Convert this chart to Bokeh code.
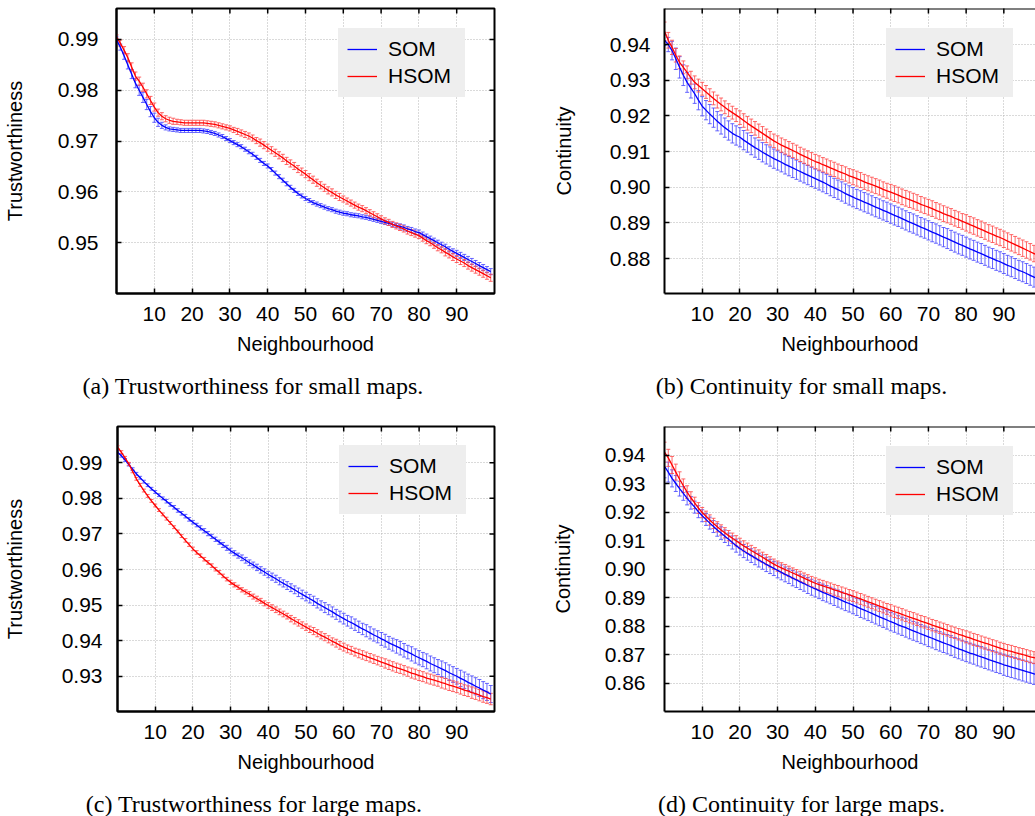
import math
from bokeh.plotting import figure
from bokeh.models import (ColumnDataSource, Range1d, FixedTicker, Legend, LegendItem,
                          Whisker, TeeHead, Label, Span, PrintfTickFormatter)
from bokeh.layouts import column, row
from bokeh.embed import file_html
from bokeh.resources import INLINE

neighbourhood = list(range(0, 100))
x_ticks = [10, 20, 30, 40, 50, 60, 70, 80, 90]
series_names = ["SOM", "HSOM"]

# ---------------- (a) Trustworthiness, small maps ----------------
a_yticks = [0.95, 0.96, 0.97, 0.98, 0.99]
a_som = [
    0.9900, 0.9885, 0.9868, 0.9850, 0.9832, 0.9814, 0.9800, 0.9786, 0.9772, 0.9758,
    0.9746, 0.9737, 0.9731, 0.9727, 0.9724, 0.9723, 0.9722, 0.9721, 0.9721, 0.9721,
    0.9721, 0.9721, 0.9721, 0.9720, 0.9719, 0.9717, 0.9715, 0.9712, 0.9709, 0.9705,
    0.9701, 0.9697, 0.9693, 0.9689, 0.9684, 0.9679, 0.9674, 0.9668, 0.9662, 0.9656,
    0.9651, 0.9644, 0.9637, 0.9630, 0.9623, 0.9616, 0.9609, 0.9603, 0.9597, 0.9592,
    0.9587, 0.9583, 0.9579, 0.9576, 0.9573, 0.9570, 0.9567, 0.9565, 0.9562, 0.9560,
    0.9558, 0.9557, 0.9555, 0.9554, 0.9553, 0.9551, 0.9550, 0.9548, 0.9546, 0.9544,
    0.9542, 0.9540, 0.9538, 0.9536, 0.9534, 0.9532, 0.9530, 0.9527, 0.9525, 0.9522,
    0.9520, 0.9516, 0.9512, 0.9508, 0.9504, 0.9500, 0.9496, 0.9492, 0.9487, 0.9483,
    0.9479, 0.9475, 0.9471, 0.9467, 0.9463, 0.9459, 0.9455, 0.9451, 0.9447, 0.9443]
a_som_err = [
    0.0005, 0.0006, 0.0007, 0.0008, 0.0009, 0.0009, 0.0010, 0.0010, 0.0010, 0.0010,
    0.0009, 0.0008, 0.0006, 0.0005, 0.0004, 0.0004, 0.0004, 0.0004, 0.0004, 0.0004,
    0.0004, 0.0004, 0.0004, 0.0004, 0.0004, 0.0004, 0.0004, 0.0004, 0.0004, 0.0004,
    0.0004, 0.0004, 0.0004, 0.0004, 0.0004, 0.0004, 0.0004, 0.0004, 0.0004, 0.0004,
    0.0004, 0.0004, 0.0004, 0.0004, 0.0004, 0.0004, 0.0004, 0.0004, 0.0004, 0.0004,
    0.0004, 0.0004, 0.0004, 0.0004, 0.0004, 0.0004, 0.0004, 0.0004, 0.0004, 0.0004,
    0.0004, 0.0004, 0.0004, 0.0004, 0.0004, 0.0004, 0.0004, 0.0004, 0.0004, 0.0004,
    0.0004, 0.0004, 0.0004, 0.0004, 0.0004, 0.0005, 0.0005, 0.0005, 0.0005, 0.0005,
    0.0005, 0.0005, 0.0005, 0.0005, 0.0005, 0.0005, 0.0005, 0.0005, 0.0005, 0.0005,
    0.0006, 0.0006, 0.0006, 0.0006, 0.0006, 0.0006, 0.0006, 0.0006, 0.0006, 0.0006]
a_hsom = [
    0.9905, 0.9893, 0.9879, 0.9864, 0.9846, 0.9828, 0.9818, 0.9806, 0.9793, 0.9780,
    0.9767, 0.9756, 0.9749, 0.9744, 0.9741, 0.9739, 0.9738, 0.9737, 0.9736, 0.9736,
    0.9736, 0.9736, 0.9736, 0.9736, 0.9735, 0.9734, 0.9733, 0.9731, 0.9729, 0.9727,
    0.9725, 0.9722, 0.9719, 0.9716, 0.9713, 0.9710, 0.9706, 0.9701, 0.9697, 0.9692,
    0.9687, 0.9682, 0.9677, 0.9672, 0.9667, 0.9661, 0.9656, 0.9651, 0.9645, 0.9640,
    0.9635, 0.9629, 0.9624, 0.9618, 0.9613, 0.9608, 0.9603, 0.9599, 0.9594, 0.9590,
    0.9586, 0.9582, 0.9578, 0.9574, 0.9570, 0.9567, 0.9563, 0.9559, 0.9555, 0.9551,
    0.9547, 0.9543, 0.9540, 0.9536, 0.9533, 0.9530, 0.9527, 0.9523, 0.9520, 0.9517,
    0.9514, 0.9509, 0.9504, 0.9500, 0.9495, 0.9490, 0.9486, 0.9481, 0.9477, 0.9472,
    0.9468, 0.9464, 0.9460, 0.9455, 0.9451, 0.9447, 0.9443, 0.9439, 0.9435, 0.9431]
a_hsom_err = [
    0.0004, 0.0006, 0.0007, 0.0008, 0.0008, 0.0008, 0.0008, 0.0008, 0.0008, 0.0008,
    0.0008, 0.0007, 0.0007, 0.0006, 0.0006, 0.0006, 0.0005, 0.0005, 0.0005, 0.0005,
    0.0005, 0.0005, 0.0005, 0.0005, 0.0005, 0.0005, 0.0005, 0.0005, 0.0005, 0.0005,
    0.0005, 0.0005, 0.0006, 0.0006, 0.0006, 0.0006, 0.0006, 0.0006, 0.0007, 0.0007,
    0.0007, 0.0007, 0.0007, 0.0007, 0.0007, 0.0007, 0.0007, 0.0007, 0.0007, 0.0007,
    0.0007, 0.0007, 0.0007, 0.0007, 0.0007, 0.0007, 0.0007, 0.0007, 0.0007, 0.0007,
    0.0006, 0.0006, 0.0006, 0.0006, 0.0006, 0.0006, 0.0006, 0.0006, 0.0006, 0.0006,
    0.0006, 0.0006, 0.0006, 0.0006, 0.0006, 0.0006, 0.0006, 0.0006, 0.0006, 0.0006,
    0.0006, 0.0006, 0.0006, 0.0006, 0.0006, 0.0006, 0.0006, 0.0007, 0.0007, 0.0007,
    0.0007, 0.0007, 0.0007, 0.0007, 0.0007, 0.0007, 0.0007, 0.0007, 0.0007, 0.0007]

# ---------------- (b) Continuity, small maps ----------------
b_yticks = [0.88, 0.89, 0.90, 0.91, 0.92, 0.93, 0.94]
b_som = [
    0.9412, 0.9400, 0.9383, 0.9360, 0.9336, 0.9314, 0.9294, 0.9278, 0.9262, 0.9244,
    0.9227, 0.9216, 0.9205, 0.9195, 0.9185, 0.9176, 0.9167, 0.9159, 0.9151, 0.9145,
    0.9140, 0.9132, 0.9125, 0.9118, 0.9111, 0.9105, 0.9098, 0.9092, 0.9086, 0.9080,
    0.9075, 0.9070, 0.9064, 0.9059, 0.9054, 0.9049, 0.9044, 0.9039, 0.9034, 0.9029,
    0.9024, 0.9019, 0.9014, 0.9009, 0.9003, 0.8998, 0.8993, 0.8988, 0.8982, 0.8977,
    0.8972, 0.8967, 0.8963, 0.8958, 0.8954, 0.8949, 0.8944, 0.8940, 0.8935, 0.8931,
    0.8926, 0.8921, 0.8917, 0.8912, 0.8907, 0.8902, 0.8898, 0.8893, 0.8888, 0.8884,
    0.8879, 0.8874, 0.8870, 0.8865, 0.8860, 0.8856, 0.8851, 0.8846, 0.8841, 0.8837,
    0.8832, 0.8827, 0.8823, 0.8818, 0.8814, 0.8809, 0.8804, 0.8800, 0.8795, 0.8791,
    0.8786, 0.8781, 0.8777, 0.8772, 0.8767, 0.8763, 0.8758, 0.8753, 0.8748, 0.8743]
b_som_err = [
    0.0015, 0.0020, 0.0026, 0.0030, 0.0030, 0.0029, 0.0028, 0.0028, 0.0027, 0.0027,
    0.0027, 0.0027, 0.0027, 0.0027, 0.0027, 0.0027, 0.0027, 0.0027, 0.0027, 0.0027,
    0.0027, 0.0027, 0.0027, 0.0027, 0.0027, 0.0027, 0.0027, 0.0027, 0.0027, 0.0027,
    0.0027, 0.0027, 0.0027, 0.0027, 0.0027, 0.0027, 0.0027, 0.0027, 0.0027, 0.0027,
    0.0027, 0.0027, 0.0027, 0.0027, 0.0027, 0.0027, 0.0027, 0.0027, 0.0027, 0.0027,
    0.0027, 0.0027, 0.0027, 0.0027, 0.0027, 0.0027, 0.0027, 0.0027, 0.0027, 0.0027,
    0.0027, 0.0027, 0.0027, 0.0027, 0.0027, 0.0027, 0.0027, 0.0027, 0.0027, 0.0027,
    0.0027, 0.0027, 0.0027, 0.0027, 0.0027, 0.0028, 0.0028, 0.0028, 0.0028, 0.0028,
    0.0028, 0.0028, 0.0028, 0.0028, 0.0028, 0.0028, 0.0028, 0.0028, 0.0028, 0.0028,
    0.0028, 0.0028, 0.0028, 0.0028, 0.0028, 0.0028, 0.0028, 0.0028, 0.0028, 0.0028]
b_hsom = [
    0.9437, 0.9412, 0.9392, 0.9370, 0.9350, 0.9336, 0.9322, 0.9307, 0.9294, 0.9285,
    0.9276, 0.9267, 0.9258, 0.9249, 0.9240, 0.9232, 0.9224, 0.9216, 0.9209, 0.9202,
    0.9195, 0.9187, 0.9179, 0.9172, 0.9165, 0.9158, 0.9151, 0.9144, 0.9137, 0.9130,
    0.9124, 0.9118, 0.9113, 0.9108, 0.9103, 0.9098, 0.9092, 0.9087, 0.9082, 0.9077,
    0.9072, 0.9068, 0.9063, 0.9059, 0.9054, 0.9050, 0.9045, 0.9041, 0.9037, 0.9032,
    0.9028, 0.9024, 0.9020, 0.9015, 0.9011, 0.9007, 0.9003, 0.8999, 0.8994, 0.8990,
    0.8986, 0.8982, 0.8978, 0.8973, 0.8969, 0.8965, 0.8961, 0.8957, 0.8952, 0.8948,
    0.8944, 0.8940, 0.8935, 0.8931, 0.8926, 0.8922, 0.8918, 0.8913, 0.8909, 0.8904,
    0.8900, 0.8895, 0.8891, 0.8886, 0.8882, 0.8877, 0.8872, 0.8868, 0.8863, 0.8859,
    0.8854, 0.8849, 0.8844, 0.8839, 0.8834, 0.8829, 0.8824, 0.8819, 0.8814, 0.8809]
b_hsom_err = [
    0.0026, 0.0022, 0.0020, 0.0019, 0.0018, 0.0018, 0.0018, 0.0018, 0.0018, 0.0018,
    0.0018, 0.0018, 0.0018, 0.0018, 0.0018, 0.0018, 0.0018, 0.0018, 0.0018, 0.0018,
    0.0019, 0.0019, 0.0019, 0.0019, 0.0019, 0.0019, 0.0019, 0.0019, 0.0019, 0.0019,
    0.0020, 0.0020, 0.0020, 0.0020, 0.0020, 0.0020, 0.0020, 0.0020, 0.0020, 0.0020,
    0.0020, 0.0020, 0.0020, 0.0020, 0.0020, 0.0020, 0.0020, 0.0020, 0.0020, 0.0020,
    0.0021, 0.0021, 0.0021, 0.0021, 0.0021, 0.0021, 0.0021, 0.0021, 0.0021, 0.0021,
    0.0022, 0.0022, 0.0022, 0.0022, 0.0022, 0.0022, 0.0022, 0.0022, 0.0022, 0.0022,
    0.0022, 0.0022, 0.0022, 0.0022, 0.0022, 0.0022, 0.0022, 0.0022, 0.0022, 0.0022,
    0.0023, 0.0023, 0.0023, 0.0023, 0.0023, 0.0023, 0.0023, 0.0023, 0.0023, 0.0023,
    0.0023, 0.0023, 0.0023, 0.0023, 0.0023, 0.0023, 0.0023, 0.0023, 0.0023, 0.0023]

# ---------------- (c) Trustworthiness, large maps ----------------
c_yticks = [0.93, 0.94, 0.95, 0.96, 0.97, 0.98, 0.99]
c_som = [
    0.9930, 0.9920, 0.9908, 0.9895, 0.9882, 0.9869, 0.9858, 0.9847, 0.9837, 0.9827,
    0.9818, 0.9809, 0.9800, 0.9792, 0.9783, 0.9775, 0.9766, 0.9758, 0.9750, 0.9741,
    0.9733, 0.9725, 0.9717, 0.9709, 0.9701, 0.9693, 0.9685, 0.9677, 0.9669, 0.9661,
    0.9653, 0.9646, 0.9639, 0.9633, 0.9626, 0.9619, 0.9613, 0.9606, 0.9599, 0.9593,
    0.9586, 0.9580, 0.9574, 0.9567, 0.9561, 0.9555, 0.9549, 0.9543, 0.9536, 0.9530,
    0.9524, 0.9518, 0.9512, 0.9505, 0.9499, 0.9493, 0.9487, 0.9481, 0.9474, 0.9468,
    0.9462, 0.9456, 0.9451, 0.9445, 0.9439, 0.9433, 0.9428, 0.9422, 0.9416, 0.9411,
    0.9405, 0.9400, 0.9394, 0.9389, 0.9384, 0.9379, 0.9373, 0.9368, 0.9363, 0.9357,
    0.9352, 0.9347, 0.9342, 0.9336, 0.9331, 0.9326, 0.9321, 0.9316, 0.9310, 0.9305,
    0.9300, 0.9294, 0.9289, 0.9283, 0.9278, 0.9272, 0.9267, 0.9261, 0.9256, 0.9250]
c_som_err = [
    0.0004, 0.0004, 0.0004, 0.0004, 0.0004, 0.0004, 0.0004, 0.0004, 0.0004, 0.0004,
    0.0004, 0.0004, 0.0004, 0.0005, 0.0005, 0.0005, 0.0005, 0.0005, 0.0005, 0.0005,
    0.0005, 0.0005, 0.0006, 0.0006, 0.0006, 0.0006, 0.0006, 0.0006, 0.0007, 0.0007,
    0.0007, 0.0007, 0.0007, 0.0008, 0.0008, 0.0008, 0.0008, 0.0009, 0.0009, 0.0009,
    0.0009, 0.0010, 0.0010, 0.0010, 0.0010, 0.0011, 0.0011, 0.0011, 0.0012, 0.0012,
    0.0012, 0.0012, 0.0013, 0.0013, 0.0013, 0.0014, 0.0014, 0.0014, 0.0014, 0.0015,
    0.0015, 0.0015, 0.0016, 0.0016, 0.0016, 0.0016, 0.0017, 0.0017, 0.0017, 0.0017,
    0.0018, 0.0018, 0.0018, 0.0018, 0.0019, 0.0019, 0.0019, 0.0019, 0.0020, 0.0020,
    0.0020, 0.0020, 0.0021, 0.0021, 0.0021, 0.0021, 0.0022, 0.0022, 0.0022, 0.0022,
    0.0022, 0.0023, 0.0023, 0.0023, 0.0023, 0.0024, 0.0024, 0.0024, 0.0024, 0.0024]
c_hsom = [
    0.9944, 0.9930, 0.9914, 0.9897, 0.9876, 0.9855, 0.9838, 0.9822, 0.9807, 0.9793,
    0.9780, 0.9767, 0.9755, 0.9743, 0.9731, 0.9719, 0.9707, 0.9694, 0.9682, 0.9670,
    0.9658, 0.9648, 0.9639, 0.9629, 0.9620, 0.9611, 0.9601, 0.9592, 0.9582, 0.9573,
    0.9564, 0.9557, 0.9550, 0.9543, 0.9537, 0.9531, 0.9524, 0.9518, 0.9512, 0.9505,
    0.9499, 0.9493, 0.9487, 0.9481, 0.9475, 0.9469, 0.9462, 0.9456, 0.9450, 0.9444,
    0.9438, 0.9432, 0.9427, 0.9421, 0.9415, 0.9410, 0.9404, 0.9398, 0.9393, 0.9387,
    0.9382, 0.9377, 0.9373, 0.9368, 0.9364, 0.9360, 0.9356, 0.9352, 0.9348, 0.9344,
    0.9340, 0.9336, 0.9332, 0.9328, 0.9324, 0.9321, 0.9317, 0.9313, 0.9309, 0.9306,
    0.9302, 0.9299, 0.9295, 0.9292, 0.9289, 0.9286, 0.9282, 0.9279, 0.9275, 0.9272,
    0.9269, 0.9265, 0.9261, 0.9258, 0.9254, 0.9251, 0.9247, 0.9243, 0.9240, 0.9236]
c_hsom_err = [
    0.0004, 0.0004, 0.0004, 0.0004, 0.0004, 0.0004, 0.0004, 0.0004, 0.0004, 0.0004,
    0.0004, 0.0004, 0.0004, 0.0004, 0.0004, 0.0004, 0.0004, 0.0004, 0.0005, 0.0005,
    0.0005, 0.0005, 0.0005, 0.0005, 0.0005, 0.0005, 0.0005, 0.0005, 0.0005, 0.0005,
    0.0006, 0.0006, 0.0006, 0.0006, 0.0006, 0.0007, 0.0007, 0.0007, 0.0007, 0.0007,
    0.0008, 0.0008, 0.0008, 0.0008, 0.0008, 0.0008, 0.0009, 0.0009, 0.0009, 0.0009,
    0.0009, 0.0009, 0.0010, 0.0010, 0.0010, 0.0010, 0.0010, 0.0010, 0.0011, 0.0011,
    0.0011, 0.0011, 0.0011, 0.0011, 0.0012, 0.0012, 0.0012, 0.0012, 0.0012, 0.0012,
    0.0012, 0.0013, 0.0013, 0.0013, 0.0013, 0.0013, 0.0013, 0.0013, 0.0014, 0.0014,
    0.0014, 0.0014, 0.0014, 0.0014, 0.0014, 0.0014, 0.0015, 0.0015, 0.0015, 0.0015,
    0.0015, 0.0015, 0.0015, 0.0015, 0.0016, 0.0016, 0.0016, 0.0016, 0.0016, 0.0016]

# ---------------- (d) Continuity, large maps ----------------
d_yticks = [0.86, 0.87, 0.88, 0.89, 0.90, 0.91, 0.92, 0.93, 0.94]
d_som = [
    0.9360, 0.9340, 0.9318, 0.9300, 0.9282, 0.9265, 0.9248, 0.9232, 0.9217, 0.9201,
    0.9187, 0.9174, 0.9161, 0.9149, 0.9137, 0.9126, 0.9115, 0.9104, 0.9093, 0.9082,
    0.9072, 0.9063, 0.9055, 0.9047, 0.9039, 0.9031, 0.9024, 0.9016, 0.9009, 0.9002,
    0.8995, 0.8988, 0.8981, 0.8975, 0.8968, 0.8962, 0.8955, 0.8949, 0.8942, 0.8936,
    0.8930, 0.8924, 0.8918, 0.8913, 0.8907, 0.8901, 0.8896, 0.8890, 0.8884, 0.8879,
    0.8873, 0.8867, 0.8861, 0.8856, 0.8850, 0.8844, 0.8838, 0.8832, 0.8827, 0.8821,
    0.8815, 0.8810, 0.8804, 0.8799, 0.8794, 0.8788, 0.8783, 0.8778, 0.8772, 0.8767,
    0.8762, 0.8757, 0.8751, 0.8746, 0.8741, 0.8736, 0.8731, 0.8725, 0.8720, 0.8715,
    0.8710, 0.8705, 0.8701, 0.8696, 0.8692, 0.8687, 0.8682, 0.8678, 0.8673, 0.8669,
    0.8664, 0.8660, 0.8656, 0.8652, 0.8648, 0.8644, 0.8640, 0.8636, 0.8632, 0.8628]
d_som_err = [
    0.0040, 0.0035, 0.0030, 0.0028, 0.0026, 0.0024, 0.0023, 0.0022, 0.0021, 0.0021,
    0.0021, 0.0021, 0.0021, 0.0021, 0.0022, 0.0022, 0.0022, 0.0022, 0.0023, 0.0023,
    0.0023, 0.0023, 0.0024, 0.0024, 0.0024, 0.0024, 0.0025, 0.0025, 0.0025, 0.0025,
    0.0026, 0.0026, 0.0026, 0.0026, 0.0027, 0.0027, 0.0027, 0.0027, 0.0028, 0.0028,
    0.0028, 0.0028, 0.0029, 0.0029, 0.0029, 0.0029, 0.0030, 0.0030, 0.0030, 0.0030,
    0.0030, 0.0030, 0.0031, 0.0031, 0.0031, 0.0031, 0.0031, 0.0031, 0.0032, 0.0032,
    0.0032, 0.0032, 0.0032, 0.0032, 0.0033, 0.0033, 0.0033, 0.0033, 0.0033, 0.0033,
    0.0034, 0.0034, 0.0034, 0.0034, 0.0034, 0.0034, 0.0035, 0.0035, 0.0035, 0.0035,
    0.0035, 0.0035, 0.0035, 0.0036, 0.0036, 0.0036, 0.0036, 0.0036, 0.0036, 0.0036,
    0.0037, 0.0037, 0.0037, 0.0037, 0.0037, 0.0037, 0.0037, 0.0037, 0.0037, 0.0037]
d_hsom = [
    0.9410, 0.9390, 0.9365, 0.9340, 0.9315, 0.9292, 0.9270, 0.9250, 0.9232, 0.9214,
    0.9198, 0.9185, 0.9172, 0.9160, 0.9148, 0.9137, 0.9127, 0.9117, 0.9108, 0.9099,
    0.9090, 0.9081, 0.9073, 0.9065, 0.9057, 0.9049, 0.9041, 0.9033, 0.9025, 0.9017,
    0.9010, 0.9004, 0.8998, 0.8992, 0.8986, 0.8980, 0.8974, 0.8968, 0.8962, 0.8956,
    0.8950, 0.8945, 0.8941, 0.8936, 0.8932, 0.8927, 0.8923, 0.8918, 0.8914, 0.8909,
    0.8905, 0.8900, 0.8895, 0.8890, 0.8885, 0.8880, 0.8875, 0.8870, 0.8865, 0.8860,
    0.8855, 0.8850, 0.8846, 0.8841, 0.8836, 0.8831, 0.8827, 0.8822, 0.8817, 0.8813,
    0.8808, 0.8803, 0.8799, 0.8794, 0.8790, 0.8785, 0.8780, 0.8776, 0.8771, 0.8767,
    0.8762, 0.8758, 0.8753, 0.8749, 0.8744, 0.8740, 0.8736, 0.8731, 0.8727, 0.8722,
    0.8718, 0.8714, 0.8711, 0.8707, 0.8703, 0.8700, 0.8696, 0.8692, 0.8689, 0.8685]
d_hsom_err = [
    0.0035, 0.0030, 0.0030, 0.0028, 0.0026, 0.0024, 0.0022, 0.0021, 0.0020, 0.0019,
    0.0018, 0.0018, 0.0018, 0.0018, 0.0018, 0.0018, 0.0018, 0.0018, 0.0018, 0.0018,
    0.0018, 0.0018, 0.0018, 0.0018, 0.0018, 0.0018, 0.0018, 0.0018, 0.0018, 0.0018,
    0.0018, 0.0018, 0.0018, 0.0018, 0.0018, 0.0018, 0.0018, 0.0018, 0.0018, 0.0018,
    0.0019, 0.0019, 0.0019, 0.0019, 0.0019, 0.0019, 0.0019, 0.0019, 0.0019, 0.0019,
    0.0019, 0.0019, 0.0019, 0.0019, 0.0019, 0.0019, 0.0019, 0.0019, 0.0019, 0.0019,
    0.0020, 0.0020, 0.0020, 0.0020, 0.0020, 0.0020, 0.0020, 0.0020, 0.0020, 0.0020,
    0.0020, 0.0020, 0.0020, 0.0020, 0.0020, 0.0020, 0.0020, 0.0020, 0.0020, 0.0020,
    0.0021, 0.0021, 0.0021, 0.0021, 0.0021, 0.0021, 0.0021, 0.0021, 0.0021, 0.0021,
    0.0021, 0.0021, 0.0021, 0.0021, 0.0021, 0.0021, 0.0021, 0.0021, 0.0021, 0.0021]

SANS = "Liberation Sans"
SERIF = "Liberation Serif"
BLUE = "#0000ff"
RED = "#ff0000"
BAR_BLUE = "#4b4bff"
BAR_RED = "#ff4b4b"
FRAME_H = 285           # plot-area height in pixels
CAPTION_DY = 92         # caption centre below the plot area, pixels
CAPTION_DX = 137        # caption centre right of the plot area's left edge, pixels


def make_panel(caption, ylabel, som, som_err, hsom, hsom_err, yr, yticks,
               width, height, x_end, ml, mr, mt, mb, tick_standoff, label_standoff,
               legend_xy, left_col):
    p = figure(width=width, height=height, x_range=Range1d(0, x_end), y_range=Range1d(*yr),
               output_backend="svg", toolbar_location=None,
               min_border_left=ml, min_border_right=mr, min_border_top=mt, min_border_bottom=mb)
    p.background_fill_color = "white"
    p.border_fill_color = "white"
    if left_col:
        p.outline_line_color = "black"
        p.outline_line_width = 2
    else:
        p.outline_line_color = None
        p.add_layout(Span(location=yr[1], dimension="width", line_color="black", line_width=2))

    xt = FixedTicker(ticks=x_ticks)
    yt = FixedTicker(ticks=yticks)
    p.xaxis.ticker = xt
    p.yaxis.ticker = yt
    p.yaxis.formatter = PrintfTickFormatter(format="%.2f")
    p.xgrid.ticker = xt
    p.ygrid.ticker = yt

    for ax in list(p.xaxis) + list(p.yaxis):
        ax.major_tick_in = 5
        ax.major_tick_out = 0
        ax.minor_tick_line_color = None
        ax.axis_line_width = 2
        ax.axis_line_color = "black"
        ax.major_tick_line_color = "black"
        ax.major_tick_line_width = 1.5
        ax.major_label_text_font = SANS
        ax.major_label_text_font_size = "21px"
        ax.major_label_text_color = "black"
        ax.axis_label_text_font = SANS
        ax.axis_label_text_font_size = "20px"
        ax.axis_label_text_font_style = "normal"
        ax.axis_label_text_color = "black"

    p.xaxis.axis_label = "Neighbourhood"
    p.xaxis.major_label_standoff = 13
    p.xaxis.axis_label_standoff = 9
    p.yaxis.axis_label = ylabel
    p.yaxis.major_label_standoff = tick_standoff
    p.yaxis.axis_label_standoff = label_standoff

    p.grid.grid_line_color = "#b4b4b4"
    p.grid.grid_line_dash = "1 2"
    p.grid.grid_line_width = 1

    # mirrored inward tick marks (gnuplot style); the frame clips them to half length
    p.scatter(x=x_ticks, y=[yr[1]] * len(x_ticks), marker="dash", angle=math.pi / 2,
              size=10, line_color="black", line_width=1.5)
    if left_col:
        p.scatter(x=[x_end] * len(yticks), y=yticks, marker="dash", angle=0,
                  size=10, line_color="black", line_width=1.5)

    renderers = []
    for vals, errs, col, bcol in ((som, som_err, BLUE, BAR_BLUE), (hsom, hsom_err, RED, BAR_RED)):
        src = ColumnDataSource(dict(
            x=neighbourhood, y=vals,
            upper=[v + e for v, e in zip(vals, errs)],
            lower=[v - e for v, e in zip(vals, errs)]))
        w = Whisker(source=src, base="x", upper="upper", lower="lower",
                    line_color=bcol, line_alpha=0.85, line_width=1,
                    upper_head=TeeHead(size=4, line_color=bcol, line_alpha=0.85, line_width=1),
                    lower_head=TeeHead(size=4, line_color=bcol, line_alpha=0.85, line_width=1))
        p.add_layout(w)
        r = p.line("x", "y", source=src, line_color=col, line_width=1.3)
        renderers.append(r)

    legend = Legend(items=[LegendItem(label=series_names[0], renderers=[renderers[0]]),
                           LegendItem(label=series_names[1], renderers=[renderers[1]])],
                    location=legend_xy, background_fill_color="#eeeeee", background_fill_alpha=1.0,
                    border_line_color="#eeeeee", border_line_alpha=1.0,
                    label_text_font=SANS, label_text_font_size="21px",
                    label_text_color="black", glyph_width=30, glyph_height=20, label_standoff=11,
                    label_width=68, padding=8, spacing=3, margin=0)
    p.add_layout(legend)

    # caption below the axis label, placed through the plot's own scales
    frame_w = (width - ml - mr)
    cap_x = CAPTION_DX * x_end / frame_w
    cap_y = yr[0] - CAPTION_DY * (yr[1] - yr[0]) / FRAME_H
    cap = Label(x=cap_x, y=cap_y, x_units="data", y_units="data", text=caption,
                text_font=SERIF, text_font_size="24px", text_color="black",
                text_align="center", text_baseline="middle")
    p.add_layout(cap, "below")
    return p


pa = make_panel("(a) Trustworthiness for small maps.", "Trustworthiness", a_som, a_som_err,
                a_hsom, a_hsom_err, (0.9400, 0.9961), a_yticks,
                518, 410, 100, 115, 24, 8, 117, 18, 29, (222, 196), True)
pb = make_panel("(b) Continuity for small maps.", "Continuity", b_som, b_som_err,
                b_hsom, b_hsom_err, (0.8702, 0.9501), b_yticks,
                517, 410, 98.4, 146, 0, 8, 117, 14, 32, (222, 196), False)
pc = make_panel("(c) Trustworthiness for large maps.", "Trustworthiness", c_som, c_som_err,
                c_hsom, c_hsom_err, (0.9201, 1.0002), c_yticks,
                518, 406, 100, 116, 24, 16, 105, 15, 33, (222, 197), True)
pd = make_panel("(d) Continuity for large maps.", "Continuity", d_som, d_som_err,
                d_hsom, d_hsom_err, (0.8500, 0.9500), d_yticks,
                517, 406, 98.4, 146, 0, 16, 105, 19, 28, (222, 196), False)

layout = column(row(pa, pb), row(pc, pd))
open("out.html", "w").write(file_html(layout, INLINE))
